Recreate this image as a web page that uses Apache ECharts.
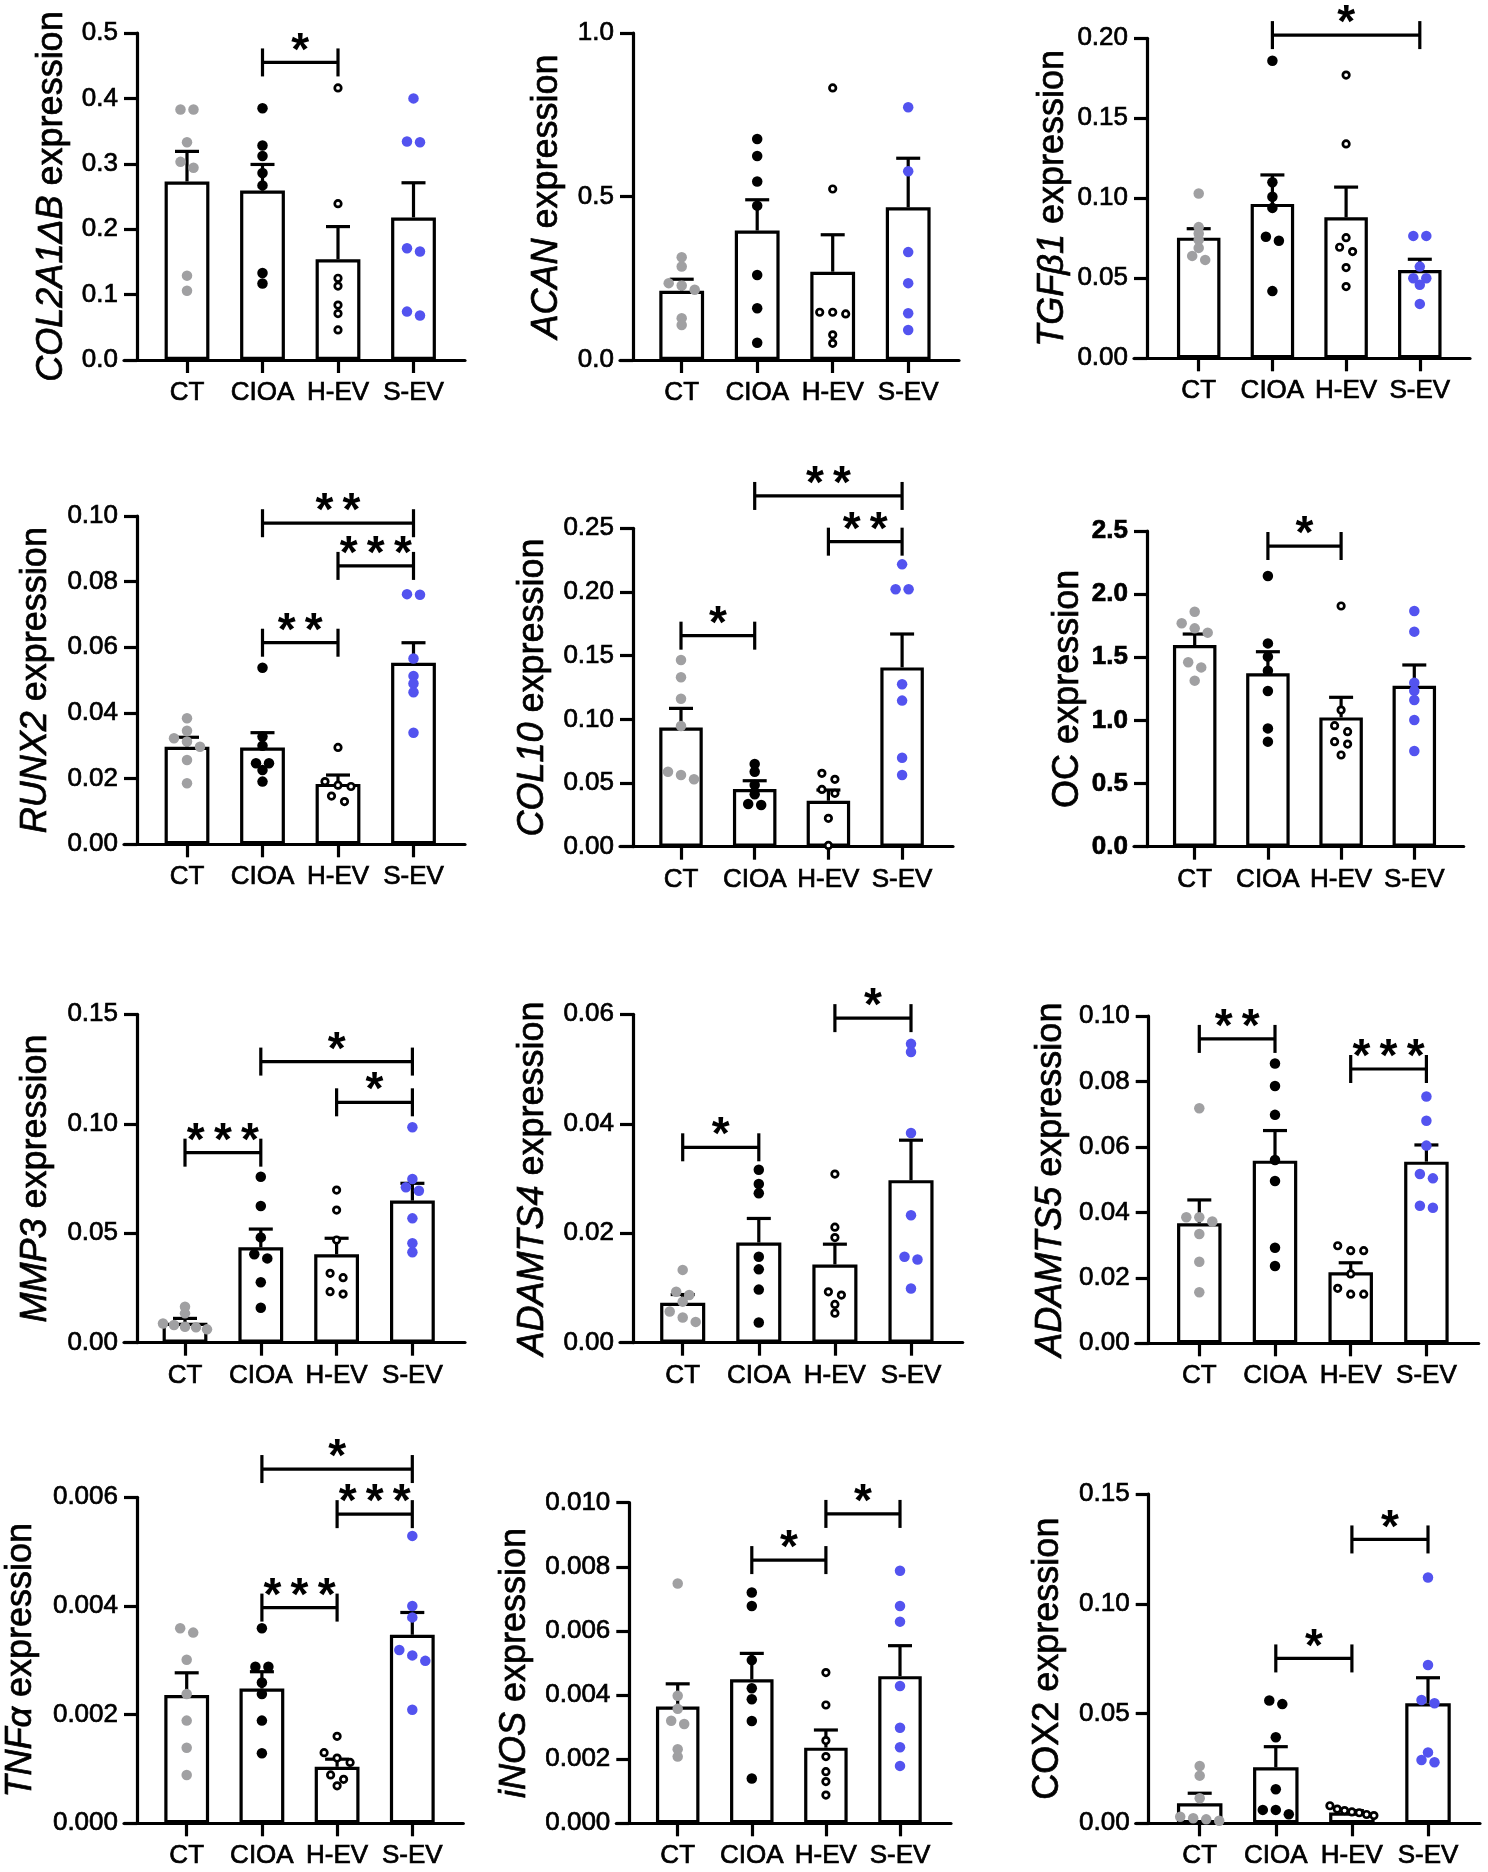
<!DOCTYPE html>
<html><head><meta charset="utf-8">
<script src="https://cdn.jsdelivr.net/npm/echarts@6/dist/echarts.min.js"></script>
<style>html,body{margin:0;padding:0;background:#fff}#c{width:1488px;height:1872px}</style>
</head><body><div id="c"></div>
<script>
// ---------------- DATA ----------------
const CATEGORIES = ['CT', 'CIOA', 'H-EV', 'S-EV'];

// Each *_POINTS = [CT, CIOA, H-EV, S-EV] individual values
const COL2A1_TICKS = [0, 0.1, 0.2, 0.3, 0.4, 0.5];
const COL2A1_POINTS = [
  [0.383, 0.383, 0.333, 0.303, 0.294, 0.129, 0.106],
  [0.385, 0.328, 0.312, 0.286, 0.267, 0.133, 0.117],
  [0.416, 0.239, 0.125, 0.113, 0.084, 0.071, 0.046],
  [0.400, 0.334, 0.333, 0.171, 0.166, 0.074, 0.068]
];
const COL2A1_MEAN = [0.273, 0.259, 0.154, 0.218];
const COL2A1_ERR = [0.319, 0.299, 0.204, 0.271];
const COL2A1_SIG = [[1, 2, 0.455, '*']];

const ACAN_TICKS = [0, 0.5, 1.0];
const ACAN_POINTS = [
  [0.314, 0.286, 0.235, 0.228, 0.215, 0.128, 0.107],
  [0.676, 0.624, 0.546, 0.472, 0.260, 0.158, 0.053],
  [0.832, 0.523, 0.146, 0.146, 0.141, 0.077, 0.051],
  [0.773, 0.577, 0.330, 0.235, 0.143, 0.092]
];
const ACAN_MEAN = [0.212, 0.396, 0.270, 0.467];
const ACAN_ERR = [0.247, 0.490, 0.383, 0.617];
const ACAN_SIG = [];

const TGFB1_TICKS = [0, 0.05, 0.10, 0.15, 0.20];
const TGFB1_POINTS = [
  [0.103, 0.082, 0.078, 0.074, 0.069, 0.064, 0.0615],
  [0.186, 0.110, 0.101, 0.094, 0.076, 0.0735, 0.042],
  [0.177, 0.134, 0.0754, 0.0694, 0.0667, 0.0567, 0.0448],
  [0.0765, 0.0765, 0.0573, 0.050, 0.050, 0.046, 0.034]
];
const TGFB1_MEAN = [0.0754, 0.0965, 0.0881, 0.0552];
const TGFB1_ERR = [0.081, 0.1146, 0.107, 0.0619];
const TGFB1_SIG = [[1, 3, 0.202, '*']];

const RUNX2_TICKS = [0, 0.02, 0.04, 0.06, 0.08, 0.10];
const RUNX2_POINTS = [
  [0.0384, 0.0346, 0.0323, 0.0313, 0.0297, 0.0257, 0.0186],
  [0.0538, 0.0328, 0.0300, 0.0247, 0.0247, 0.0226, 0.0191],
  [0.0295, 0.0191, 0.0180, 0.0176, 0.0147, 0.0130],
  [0.0762, 0.0760, 0.0566, 0.0513, 0.0490, 0.0463, 0.0340]
];
const RUNX2_MEAN = [0.0297, 0.0295, 0.0184, 0.0553];
const RUNX2_ERR = [0.0326, 0.0340, 0.0211, 0.0614];
const RUNX2_SIG = [[1, 3, 0.0978, '**'], [2, 3, 0.0848, '***'], [1, 2, 0.0614, '**']];

const COL10_TICKS = [0, 0.05, 0.10, 0.15, 0.20, 0.25];
const COL10_POINTS = [
  [0.1466, 0.133, 0.1162, 0.0948, 0.0589, 0.0563, 0.0529],
  [0.0649, 0.0589, 0.0484, 0.0411, 0.0335, 0.0327],
  [0.0576, 0.0529, 0.045, 0.0419, 0.0223, 0.001],
  [0.2217, 0.2021, 0.2021, 0.1275, 0.1147, 0.0699, 0.0563]
];
const COL10_MEAN = [0.0935, 0.0453, 0.0361, 0.1408];
const COL10_ERR = [0.1086, 0.0518, 0.0445, 0.167];
const COL10_SIG = [[0, 1, 0.1657, '*'], [1, 3, 0.2754, '**'], [2, 3, 0.2395, '**']];

const OC_TICKS = [0, 0.5, 1.0, 1.5, 2.0, 2.5];
const OC_POINTS = [
  [1.861, 1.769, 1.729, 1.695, 1.46, 1.42, 1.315],
  [2.144, 1.61, 1.505, 1.394, 1.233, 0.937, 0.832],
  [1.906, 1.082, 0.958, 0.911, 0.832, 0.813, 0.726],
  [1.866, 1.703, 1.299, 1.235, 1.162, 1.003, 0.758]
];
const OC_MEAN = [1.597, 1.373, 1.024, 1.275];
const OC_ERR = [1.684, 1.544, 1.183, 1.439];
const OC_SIG = [[1, 2, 2.381, '*']];

const MMP3_TICKS = [0, 0.05, 0.10, 0.15];
const MMP3_POINTS = [
  [0.0164, 0.0134, 0.0088, 0.0081, 0.0073, 0.0070, 0.0061],
  [0.0758, 0.0624, 0.0481, 0.0404, 0.0385, 0.0276, 0.016],
  [0.0697, 0.0606, 0.0469, 0.0317, 0.0297, 0.0233, 0.0222],
  [0.0984, 0.0748, 0.0710, 0.0694, 0.0568, 0.0454, 0.0413]
];
const MMP3_MEAN = [0.0091, 0.0436, 0.0404, 0.0649];
const MMP3_ERR = [0.0111, 0.0519, 0.0477, 0.0728];
const MMP3_SIG = [[0, 1, 0.0868, '***'], [1, 3, 0.1284, '*'], [2, 3, 0.1098, '*']];

const ADAMTS4_TICKS = [0, 0.02, 0.04, 0.06];
const ADAMTS4_POINTS = [
  [0.0133, 0.0093, 0.0087, 0.0075, 0.0057, 0.0046, 0.0038],
  [0.0316, 0.029, 0.0273, 0.0157, 0.0134, 0.0097, 0.0037],
  [0.0308, 0.0211, 0.0192, 0.0093, 0.0087, 0.0070, 0.0054],
  [0.0546, 0.0531, 0.0383, 0.0233, 0.0157, 0.0152, 0.0099]
];
const ADAMTS4_MEAN = [0.0073, 0.0183, 0.0143, 0.0297];
const ADAMTS4_ERR = [0.0088, 0.0227, 0.018, 0.037];
const ADAMTS4_SIG = [[0, 1, 0.0357, '*'], [2, 3, 0.0593, '*']];

const ADAMTS5_TICKS = [0, 0.02, 0.04, 0.06, 0.08, 0.10];
const ADAMTS5_POINTS = [
  [0.0718, 0.0385, 0.0385, 0.0372, 0.0334, 0.0249, 0.0156],
  [0.0855, 0.0786, 0.0698, 0.056, 0.0496, 0.0292, 0.0236],
  [0.0298, 0.0283, 0.0283, 0.0212, 0.0168, 0.0150, 0.0150],
  [0.0754, 0.068, 0.0604, 0.0517, 0.0504, 0.042, 0.0414]
];
const ADAMTS5_MEAN = [0.0367, 0.0558, 0.0217, 0.0555];
const ADAMTS5_ERR = [0.0438, 0.065, 0.0246, 0.0606];
const ADAMTS5_SIG = [[0, 1, 0.093, '**'], [2, 3, 0.0838, '***']];

const TNFA_TICKS = [0, 0.002, 0.004, 0.006];
const TNFA_POINTS = [
  [0.00359, 0.00351, 0.00301, 0.00238, 0.00189, 0.00139, 0.00089],
  [0.00359, 0.00288, 0.00288, 0.00259, 0.00238, 0.00189, 0.00129],
  [0.0016, 0.0013, 0.0012, 0.00112, 0.00089, 0.00081, 0.00069],
  [0.00529, 0.0040, 0.00379, 0.00319, 0.00309, 0.00299, 0.00209]
];
const TNFA_MEAN = [0.00236, 0.00248, 0.00104, 0.00347];
const TNFA_ERR = [0.00277, 0.00279, 0.00118, 0.00388];
const TNFA_SIG = [[1, 3, 0.00652, '*'], [2, 3, 0.00569, '***'], [1, 2, 0.00397, '***']];

const INOS_TICKS = [0, 0.002, 0.004, 0.006, 0.008, 0.010];
const INOS_POINTS = [
  [0.00748, 0.00398, 0.00357, 0.0032, 0.0031, 0.00231, 0.00208],
  [0.0072, 0.00678, 0.00509, 0.00421, 0.00387, 0.00319, 0.0014],
  [0.0047, 0.00369, 0.00258, 0.00208, 0.00161, 0.0013, 0.00088],
  [0.00788, 0.00678, 0.00629, 0.00428, 0.00298, 0.00237, 0.00179]
];
const INOS_MEAN = [0.00364, 0.00449, 0.00236, 0.00459];
const INOS_ERR = [0.00435, 0.0053, 0.00291, 0.00554];
const INOS_SIG = [[1, 2, 0.00821, '*'], [2, 3, 0.00965, '*']];

const COX2_TICKS = [0, 0.05, 0.10, 0.15];
const COX2_POINTS = [
  [0.0261, 0.0217, 0.0114, 0.003, 0.0023, 0.0018, 0.0012],
  [0.0559, 0.0543, 0.0392, 0.0155, 0.0061, 0.0061, 0.0041],
  [0.0080, 0.0065, 0.0058, 0.0052, 0.0048, 0.0040, 0.0035],
  [0.112, 0.0721, 0.0562, 0.0547, 0.0323, 0.0288, 0.0278]
];
const COX2_MEAN = [0.0091, 0.0255, 0.0049, 0.0547];
const COX2_ERR = [0.0137, 0.0349, 0.0058, 0.0663];
const COX2_SIG = [[1, 2, 0.0751, '*'], [2, 3, 0.1293, '*']];

const GENES = [
  {it: 'COL2A1ΔB', plain: ' expression', ticks: COL2A1_TICKS, dec: 1, pts: COL2A1_POINTS, mean: COL2A1_MEAN, err: COL2A1_ERR, sig: COL2A1_SIG},
  {it: 'ACAN', plain: ' expression', ticks: ACAN_TICKS, dec: 1, pts: ACAN_POINTS, mean: ACAN_MEAN, err: ACAN_ERR, sig: ACAN_SIG},
  {it: 'TGFβ1', plain: ' expression', ticks: TGFB1_TICKS, dec: 2, pts: TGFB1_POINTS, mean: TGFB1_MEAN, err: TGFB1_ERR, sig: TGFB1_SIG},
  {it: 'RUNX2', plain: ' expression', ticks: RUNX2_TICKS, dec: 2, pts: RUNX2_POINTS, mean: RUNX2_MEAN, err: RUNX2_ERR, sig: RUNX2_SIG},
  {it: 'COL10', plain: ' expression', ticks: COL10_TICKS, dec: 2, pts: COL10_POINTS, mean: COL10_MEAN, err: COL10_ERR, sig: COL10_SIG},
  {it: '', plain: 'OC expression', ticks: OC_TICKS, dec: 1, pts: OC_POINTS, mean: OC_MEAN, err: OC_ERR, sig: OC_SIG, boldTicks: true},
  {it: 'MMP3', plain: ' expression', ticks: MMP3_TICKS, dec: 2, pts: MMP3_POINTS, mean: MMP3_MEAN, err: MMP3_ERR, sig: MMP3_SIG},
  {it: 'ADAMTS4', plain: ' expression', ticks: ADAMTS4_TICKS, dec: 2, pts: ADAMTS4_POINTS, mean: ADAMTS4_MEAN, err: ADAMTS4_ERR, sig: ADAMTS4_SIG},
  {it: 'ADAMTS5', plain: ' expression', ticks: ADAMTS5_TICKS, dec: 2, pts: ADAMTS5_POINTS, mean: ADAMTS5_MEAN, err: ADAMTS5_ERR, sig: ADAMTS5_SIG},
  {it: 'TNFα', plain: ' expression', ticks: TNFA_TICKS, dec: 3, pts: TNFA_POINTS, mean: TNFA_MEAN, err: TNFA_ERR, sig: TNFA_SIG},
  {it: 'iNOS', plain: ' expression', ticks: INOS_TICKS, dec: 3, pts: INOS_POINTS, mean: INOS_MEAN, err: INOS_ERR, sig: INOS_SIG},
  {it: '', plain: 'COX2 expression', ticks: COX2_TICKS, dec: 2, pts: COX2_POINTS, mean: COX2_MEAN, err: COX2_ERR, sig: COX2_SIG}
];

// ---------------- LAYOUT (pixels) ----------------
const LAYOUT = [
  {ax: 137,    xEnd: 465,    top: 33,     bottom: 360,    c0: 187,    step: 75.5, bw: 48,   gap: 67},
  {ax: 633,    xEnd: 959,    top: 33,     bottom: 360,    c0: 681.7,  step: 75.5, bw: 48,   gap: 68},
  {ax: 1147,   xEnd: 1470,   top: 38.3,   bottom: 358.3,  c0: 1198.7, step: 73.7, bw: 46.7, gap: 76},
  {ax: 137,    xEnd: 465,    top: 516,    bottom: 844.3,  c0: 187,    step: 75.5, bw: 48,   gap: 83},
  {ax: 633,    xEnd: 953,    top: 528.3,  bottom: 846.7,  c0: 681,    step: 73.7, bw: 46.7, gap: 82},
  {ax: 1147,   xEnd: 1463.7, top: 531,    bottom: 846.7,  c0: 1194.7, step: 73.2, bw: 46.7, gap: 61},
  {ax: 137,    xEnd: 465,    top: 1014.3, bottom: 1342.7, c0: 185,    step: 75.8, bw: 48,   gap: 83},
  {ax: 633,    xEnd: 962.7,  top: 1014.3, bottom: 1342.7, c0: 682.7,  step: 76.1, bw: 48.3, gap: 82},
  {ax: 1148.7, xEnd: 1478.7, top: 1016,   bottom: 1343.3, c0: 1199.3, step: 75.7, bw: 47.7, gap: 80},
  {ax: 137,    xEnd: 463.3,  top: 1497.3, bottom: 1823.3, c0: 186.7,  step: 75.2, bw: 48,   gap: 98},
  {ax: 629.3,  xEnd: 951,    top: 1502.7, bottom: 1823.3, c0: 677.7,  step: 74.1, bw: 46.7, gap: 96},
  {ax: 1148.7, xEnd: 1480,   top: 1494,   bottom: 1823.3, c0: 1199.7, step: 76.1, bw: 48.7, gap: 83}
];

const FONT = '"Liberation Sans", Arial, Helvetica, sans-serif';
const TICKLEN = 13;
const LW = 3.2;
const GROUP_COLORS = ['#a0a0a2', '#000000', '#ffffff', '#5353ef'];
const HEAVY = {textBorderColor: '#000', textBorderWidth: 0.7};

// simple beeswarm: points closer than a threshold vertically are spread symmetrically
function swarm(vals, k, pxPerY, step) {
  const sorted = vals.slice().sort((a, b) => b - a);
  const out = [];
  let cl = [];
  const flush = () => {
    const n = cl.length;
    const sp = n > 1 ? Math.min(13, 44 / (n - 1)) : 0;
    cl.forEach((v, j) => out.push([k + (j - (n - 1) / 2) * sp / step, v]));
    cl = [];
  };
  sorted.forEach(v => {
    if (cl.length && (cl[cl.length - 1] - v) * pxPerY >= 6.3) flush();
    cl.push(v);
  });
  flush();
  return out;
}

const grids = [], xAxes = [], yAxes = [], series = [];

GENES.forEach((g, i) => {
  const L = LAYOUT[i];
  const gridLeft = L.ax - TICKLEN;
  const yMax = g.ticks[g.ticks.length - 1];
  const interval = g.ticks[1] - g.ticks[0];
  const pxPerY = (L.bottom - L.top) / yMax;
  grids.push({left: gridLeft, top: L.top, width: L.xEnd - gridLeft, height: L.bottom - L.top,
              containLabel: false, outerBoundsMode: 'none'});
  xAxes.push({
    gridIndex: i, type: 'value',
    min: (gridLeft - L.c0) / L.step, max: (L.xEnd - L.c0) / L.step,
    axisLine: {show: true, onZero: false, lineStyle: {color: '#000', width: LW}},
    axisTick: {show: true, length: TICKLEN, customValues: [0, 1, 2, 3], lineStyle: {color: '#000', width: LW}},
    axisLabel: Object.assign({customValues: [0, 1, 2, 3], formatter: v => CATEGORIES[Math.round(v)] || '',
                margin: 20, fontSize: 26, color: '#000', fontFamily: FONT}, HEAVY),
    splitLine: {show: false}
  });
  const nameStr = (g.it ? '{i|' + g.it + '}' : '') + g.plain;
  yAxes.push({
    gridIndex: i, type: 'value', min: 0, max: yMax, interval: interval,
    offset: -TICKLEN,
    axisLine: {show: true, onZero: false, lineStyle: {color: '#000', width: LW}},
    axisTick: {show: true, length: TICKLEN, lineStyle: {color: '#000', width: LW}},
    axisLabel: Object.assign({margin: 19, fontSize: 26, color: '#000', fontFamily: FONT,
                fontWeight: g.boldTicks ? 'bold' : 'normal',
                formatter: v => v.toFixed(g.dec)}, HEAVY),
    splitLine: {show: false},
    name: nameStr, nameLocation: 'middle', nameGap: L.gap,
    nameTextStyle: Object.assign({fontSize: 36, color: '#000', fontFamily: FONT,
      rich: {i: Object.assign({fontSize: 36, fontStyle: 'italic', color: '#000', fontFamily: FONT}, HEAVY)}}, HEAVY)
  });
  // bars
  series.push({
    type: 'bar', xAxisIndex: i, yAxisIndex: i, silent: true, z: 2,
    barWidth: L.bw - LW,
    itemStyle: {color: '#fff', borderColor: '#000', borderWidth: LW},
    data: g.mean.map((m, k) => [k, m])
  });
  // error bars (SEM, upper only)
  series.push({
    type: 'custom', xAxisIndex: i, yAxisIndex: i, silent: true, z: 3, clip: false,
    encode: {x: 0, y: [1, 2]},
    data: g.mean.map((m, k) => [k, m, g.err[k]]),
    renderItem: (p, api) => {
      const a = api.coord([api.value(0), api.value(1)]);
      const b = api.coord([api.value(0), api.value(2)]);
      const st = {stroke: '#000', lineWidth: LW};
      return {type: 'group', children: [
        {type: 'line', shape: {x1: a[0], y1: a[1], x2: b[0], y2: b[1]}, style: st},
        {type: 'line', shape: {x1: b[0] - 12, y1: b[1], x2: b[0] + 12, y2: b[1]}, style: st}
      ]};
    }
  });
  // points
  g.pts.forEach((vals, k) => {
    const open = k === 2;
    series.push({
      type: 'scatter', xAxisIndex: i, yAxisIndex: i, silent: true, z: 4,
      symbol: 'circle', symbolSize: open ? 6.5 : 10.5,
      itemStyle: open ? {color: '#fff', borderColor: '#000', borderWidth: 2.7, opacity: 1}
                      : {color: GROUP_COLORS[k], opacity: 1},
      data: swarm(vals, k, pxPerY, L.step)
    });
  });
  // significance brackets
  const sig = g.sig;
  series.push({
    type: 'custom', xAxisIndex: i, yAxisIndex: i, silent: true, z: 5, clip: false,
    encode: {x: [0, 1], y: 2},
    data: sig.map(s => [s[0], s[1], s[2]]),
    renderItem: (p, api) => {
      const a = api.coord([api.value(0), api.value(2)]);
      const b = api.coord([api.value(1), api.value(2)]);
      const h = 14;
      const st = {stroke: '#000', lineWidth: LW};
      return {type: 'group', children: [
        {type: 'line', shape: {x1: a[0], y1: a[1], x2: b[0], y2: b[1]}, style: st},
        {type: 'line', shape: {x1: a[0], y1: a[1] - h, x2: a[0], y2: a[1] + h}, style: st},
        {type: 'line', shape: {x1: b[0], y1: b[1] - h, x2: b[0], y2: b[1] + h}, style: st},
        {type: 'text', style: {text: sig[p.dataIndex][3].split('').join('\u2009'), x: (a[0] + b[0]) / 2, y: a[1] - 10.5,
          align: 'center', verticalAlign: 'middle', fontSize: 46, fontWeight: 'bold',
          fontFamily: FONT, fill: '#000'}}
      ]};
    }
  });
});

const chart = echarts.init(document.getElementById('c'), null, {renderer: 'canvas'});
chart.setOption({
  animation: false,
  backgroundColor: '#fff',
  textStyle: {fontFamily: FONT},
  grid: grids, xAxis: xAxes, yAxis: yAxes, series: series
});
</script>
</body></html>
